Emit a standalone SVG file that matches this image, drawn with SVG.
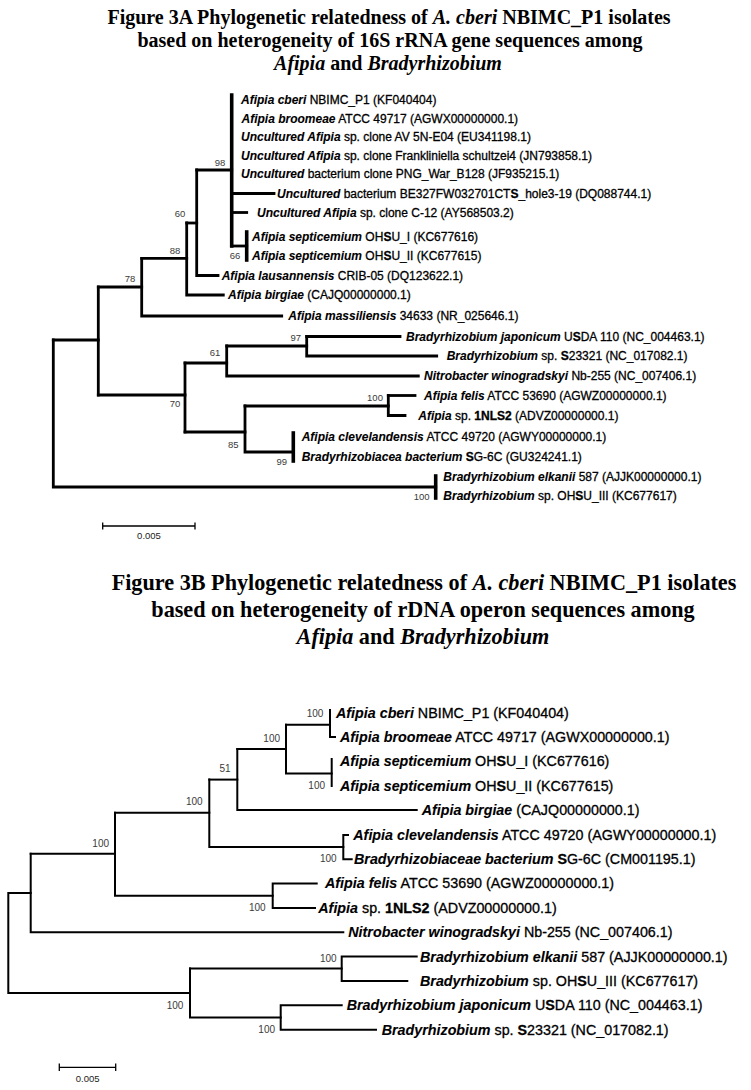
<svg xmlns="http://www.w3.org/2000/svg" width="751" height="1090" viewBox="0 0 751 1090">
<style>
.title{font-family:"Liberation Serif","Times New Roman",serif;font-weight:bold;fill:#000;text-anchor:middle}
.i{font-style:italic}
.lab{font-family:"Liberation Sans",Arial,sans-serif;fill:#000;stroke:#000;stroke-width:0.3}
.lab .sp{font-style:italic;font-weight:bold;stroke-width:0.1}
.a{font-size:12px}
.b{font-size:14.3px}
.bs{font-family:"Liberation Sans",Arial,sans-serif;fill:#3a3a3a;text-anchor:middle}
.bsa{font-size:9.5px}
.bsb{font-size:10px}
.ea path{fill:none;stroke:#000;stroke-width:2.8;stroke-linecap:square}
.ea path.t{stroke-width:3.6}
.eb path{fill:none;stroke:#000;stroke-width:2;stroke-linecap:square}
.scale path{fill:none;stroke:#000;stroke-width:1.3}
.st{font-family:"Liberation Sans",Arial,sans-serif;font-size:9.5px;fill:#222;text-anchor:middle}
</style>
<rect width="751" height="1090" fill="#fff"/>

<g id="title3A">
<text class="title" font-size="20" x="389" y="24">Figure 3A Phylogenetic relatedness of <tspan class="i">A. cberi</tspan> NBIMC_P1 isolates</text>
<text class="title" font-size="20" x="390" y="47">based on heterogeneity of 16S rRNA gene sequences among</text>
<text class="title" font-size="20" x="388" y="70"><tspan class="i">Afipia</tspan> and <tspan class="i">Bradyrhizobium</tspan></text>
</g>

<g id="edges3A" class="ea">
<path class="t" d="M231.7,95 V246"/>
<path d="M231.7,193.5 H274"/>
<path d="M231.7,212.5 H246.7"/>
<path d="M231.7,246 H246.7"/>
<path class="t" d="M246.7,232 V260"/>
<path d="M196.7,170 H231.7"/>
<path d="M196.7,170 V275.5 H218"/>
<path d="M186.7,223 H196.7"/>
<path d="M186.7,223 V295 H223.3"/>
<path d="M141.7,258.3 H186.7"/>
<path d="M141.7,258.3 V316 H281.7"/>
<path d="M98.3,287 H141.7"/>
<path d="M98.3,287 V395"/>
<path d="M53.3,340 H98.3"/>
<path d="M53.3,340 V487 H435.7"/>
<path class="t" d="M435.7,476 V498"/>
<path d="M98.3,395 H185"/>
<path d="M185,363 V432"/>
<path d="M185,363 H226.7"/>
<path d="M226.7,346 V376 H418.3"/>
<path d="M226.7,346 H306.7"/>
<path d="M306.7,336.5 V356 H436.7"/>
<path d="M306.7,336.5 H400"/>
<path d="M185,432 H245"/>
<path d="M245,406 V452 H293.3"/>
<path d="M245,406 H388.3"/>
<path d="M388.3,395.5 V415.5 H405"/>
<path d="M388.3,395.5 H415"/>
<path class="t" d="M293.3,433 V461"/>
</g>

<g id="leaves3A" class="lab a">
<g id="a-cberi"><text x="241" y="104.3"><tspan class="sp">Afipia cberi</tspan> NBIMC_P1 (KF040404)</text></g>
<g id="a-broomeae"><text x="241.5" y="122.8"><tspan class="sp">Afipia broomeae</tspan> ATCC 49717 (AGWX00000000.1)</text></g>
<g id="a-av5n"><text x="241" y="141.3"><tspan class="sp">Uncultured Afipia</tspan> sp. clone AV 5N-E04 (EU341198.1)</text></g>
<g id="a-frank"><text x="241" y="159.8"><tspan class="sp">Uncultured Afipia</tspan> sp. clone Frankliniella schultzei4 (JN793858.1)</text></g>
<g id="a-png"><text x="241" y="178.3"><tspan class="sp">Uncultured</tspan> bacterium clone PNG_War_B128 (JF935215.1)</text></g>
<g id="a-be327"><text x="277" y="197.8"><tspan class="sp">Uncultured</tspan> bacterium BE327FW032701CT<tspan font-weight="bold">S</tspan>_hole3-19 (DQ088744.1)</text></g>
<g id="a-c12"><text x="257" y="216.8"><tspan class="sp">Uncultured Afipia</tspan> sp. clone C-12 (AY568503.2)</text></g>
<g id="a-sept1"><text x="252" y="240.8"><tspan class="sp">Afipia septicemium</tspan> OH<tspan font-weight="bold">S</tspan>U_I (KC677616)</text></g>
<g id="a-sept2"><text x="252" y="260.3"><tspan class="sp">Afipia septicemium</tspan> OH<tspan font-weight="bold">S</tspan>U_II (KC677615)</text></g>
<g id="a-laus"><text x="221.7" y="279.8"><tspan class="sp">Afipia lausannensis</tspan> CRIB-05 (DQ123622.1)</text></g>
<g id="a-birgiae"><text x="228" y="299.3"><tspan class="sp">Afipia birgiae</tspan> (CAJQ00000000.1)</text></g>
<g id="a-massil"><text x="288.3" y="320.3"><tspan class="sp">Afipia massiliensis</tspan> 34633 (NR_025646.1)</text></g>
<g id="a-japon"><text x="406" y="340.8"><tspan class="sp">Bradyrhizobium japonicum</tspan> U<tspan font-weight="bold">S</tspan>DA 110 (NC_004463.1)</text></g>
<g id="a-s23321"><text x="446.7" y="360.3"><tspan class="sp">Bradyrhizobium</tspan> sp. <tspan font-weight="bold">S</tspan>23321 (NC_017082.1)</text></g>
<g id="a-nitro"><text x="424" y="380.3"><tspan class="sp">Nitrobacter winogradskyi</tspan> Nb-255 (NC_007406.1)</text></g>
<g id="a-felis"><text x="424" y="399.8"><tspan class="sp">Afipia felis</tspan> ATCC 53690 (AGWZ00000000.1)</text></g>
<g id="a-1nls2"><text x="418.3" y="419.8"><tspan class="sp">Afipia</tspan> sp. <tspan font-weight="bold">1NLS2</tspan> (ADVZ00000000.1)</text></g>
<g id="a-cleve"><text x="301.7" y="441.3"><tspan class="sp">Afipia clevelandensis</tspan> ATCC 49720 (AGWY00000000.1)</text></g>
<g id="a-sg6c"><text x="301.7" y="461.3"><tspan class="sp">Bradyrhizobiacea bacterium</tspan> <tspan font-weight="bold">S</tspan>G-6C (GU324241.1)</text></g>
<g id="a-elkanii"><text x="443.3" y="481.3"><tspan class="sp">Bradyrhizobium elkanii</tspan> 587 (AJJK00000000.1)</text></g>
<g id="a-ohsu3"><text x="443.3" y="500.3"><tspan class="sp">Bradyrhizobium</tspan> sp. OH<tspan font-weight="bold">S</tspan>U_III (KC677617)</text></g>
</g>

<g id="boot3A" class="bs bsa">
<text x="220" y="165.5">98</text>
<text x="180" y="216.5">60</text>
<text x="175" y="253.5">88</text>
<text x="130" y="281.5">78</text>
<text x="235" y="258.5">66</text>
<text x="215" y="356">61</text>
<text x="295.7" y="340.5">97</text>
<text x="175" y="406.5">70</text>
<text x="233.3" y="447.5">85</text>
<text x="375" y="400.5">100</text>
<text x="281.7" y="464.5">99</text>
<text x="421.7" y="499.5">100</text>
</g>

<g id="scale3A" class="scale">
<path d="M102.7,526 H195 M102.7,522.5 V529.5 M195,522.5 V529.5"/>
<text class="st" x="149" y="539">0.005</text>
</g>

<g id="title3B">
<text class="title" font-size="22.2" x="424" y="590">Figure 3B  Phylogenetic relatedness of <tspan class="i">A. cberi</tspan> NBIMC_P1 isolates</text>
<text class="title" font-size="22.2" x="423" y="617">based on heterogeneity of rDNA operon sequences among</text>
<text class="title" font-size="22.2" x="423" y="644"><tspan class="i">Afipia</tspan> and <tspan class="i">Bradyrhizobium</tspan></text>
</g>

<g id="edges3B" class="eb">
<path d="M330,710 V736.9 H335"/>
<path d="M286,724.7 H330"/>
<path d="M331.7,759 V786"/>
<path d="M286,724.7 V773.5 H331.7"/>
<path d="M237.3,749.1 H286"/>
<path d="M237.3,749.1 V810.1 H416.7"/>
<path d="M209.3,779.6 H237.3"/>
<path d="M209.3,779.6 V847 H343.3"/>
<path d="M348,834.9 H343.3 V859.3 H351.7"/>
<path d="M115,812.8 H209.3"/>
<path d="M115,812.8 V895.7 H272.7"/>
<path d="M316.7,883.5 H272.7 V907.9 H315"/>
<path d="M30.7,853.8 H115"/>
<path d="M30.7,853.8 V932.3 H343.3"/>
<path d="M30.7,893 H8.3 V993 H190"/>
<path d="M190,968.6 V1017.4 H280.7"/>
<path d="M190,968.6 H341.7"/>
<path d="M416.7,956.5 H341.7 V980.9 H407.3"/>
<path d="M341.7,1005.3 H280.7 V1029.7 H376"/>
</g>

<g id="leaves3B" class="lab b">
<g id="b-cberi"><text x="336" y="717.5"><tspan class="sp">Afipia cberi</tspan> NBIMC_P1 (KF040404)</text></g>
<g id="b-broomeae"><text x="340" y="741.9"><tspan class="sp">Afipia broomeae</tspan> ATCC 49717 (AGWX00000000.1)</text></g>
<g id="b-sept1"><text x="340" y="766.3"><tspan class="sp">Afipia septicemium</tspan> OH<tspan font-weight="bold">S</tspan>U_I (KC677616)</text></g>
<g id="b-sept2"><text x="340" y="790.7"><tspan class="sp">Afipia septicemium</tspan> OH<tspan font-weight="bold">S</tspan>U_II (KC677615)</text></g>
<g id="b-birgiae"><text x="421.7" y="815.1"><tspan class="sp">Afipia birgiae</tspan> (CAJQ00000000.1)</text></g>
<g id="b-cleve"><text x="353.3" y="839.5"><tspan class="sp">Afipia clevelandensis</tspan> ATCC 49720 (AGWY00000000.1)</text></g>
<g id="b-sg6c"><text x="354" y="863.9"><tspan class="sp">Bradyrhizobiaceae bacterium</tspan> <tspan font-weight="bold">S</tspan>G-6C (CM001195.1)</text></g>
<g id="b-felis"><text x="325" y="888.3"><tspan class="sp">Afipia felis</tspan> ATCC 53690 (AGWZ00000000.1)</text></g>
<g id="b-1nls2"><text x="318.3" y="912.7"><tspan class="sp">Afipia</tspan> sp. <tspan font-weight="bold">1NLS2</tspan> (ADVZ00000000.1)</text></g>
<g id="b-nitro"><text x="348.3" y="937.1"><tspan class="sp">Nitrobacter winogradskyi</tspan> Nb-255 (NC_007406.1)</text></g>
<g id="b-elkanii"><text x="420" y="961.5"><tspan class="sp">Bradyrhizobium elkanii</tspan> 587 (AJJK00000000.1)</text></g>
<g id="b-ohsu3"><text x="420" y="985.9"><tspan class="sp">Bradyrhizobium</tspan> sp. OH<tspan font-weight="bold">S</tspan>U_III (KC677617)</text></g>
<g id="b-japon"><text x="346.7" y="1010.3"><tspan class="sp">Bradyrhizobium japonicum</tspan> U<tspan font-weight="bold">S</tspan>DA 110 (NC_004463.1)</text></g>
<g id="b-s23321"><text x="381.7" y="1034.7"><tspan class="sp">Bradyrhizobium</tspan> sp. <tspan font-weight="bold">S</tspan>23321 (NC_017082.1)</text></g>
</g>

<g id="boot3B" class="bs bsb">
<text x="315" y="717">100</text>
<text x="271.7" y="742">100</text>
<text x="316.7" y="788.6">100</text>
<text x="225" y="772">51</text>
<text x="194.3" y="805.3">100</text>
<text x="328.3" y="861.6">100</text>
<text x="100.7" y="847">100</text>
<text x="257.3" y="911">100</text>
<text x="175" y="1009.3">100</text>
<text x="328.3" y="962">100</text>
<text x="266.7" y="1033">100</text>
</g>

<g id="scale3B" class="scale">
<path d="M59.3,1067.3 H115.7 M59.3,1063.5 V1071 M115.7,1063.5 V1071"/>
<text class="st" x="87.7" y="1082">0.005</text>
</g>
</svg>
